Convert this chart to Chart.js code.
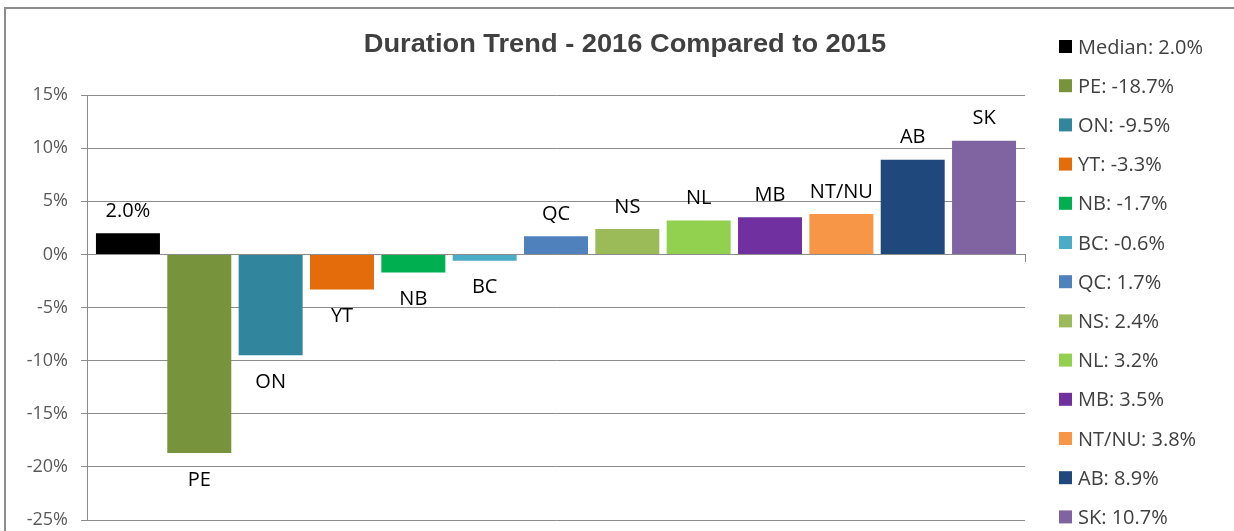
<!DOCTYPE html>
<html><head><meta charset="utf-8">
<script src="https://cdn.jsdelivr.net/npm/chart.js@4.4.1/dist/chart.umd.min.js"></script>
<style>html,body{margin:0;padding:0;background:#fff;} canvas{display:block;}</style>
</head><body>
<canvas id="c" width="1234" height="531"></canvas>
<script>
const categories = ['Median','PE','ON','YT','NB','BC','QC','NS','NL','MB','NT/NU','AB','SK'];
const values = [2.0,-18.7,-9.5,-3.3,-1.7,-0.6,1.7,2.4,3.2,3.5,3.8,8.9,10.7];
const barLabels = ['2.0%','PE','ON','YT','NB','BC','QC','NS','NL','MB','NT/NU','AB','SK'];
const colors = ['#000000','#77933C','#31859C','#E46C0A','#00B050','#4BACC6','#4F81BD','#9BBB59','#92D050','#7030A0','#F79646','#1F497D','#8064A2'];
const yTicks = [-25,-20,-15,-10,-5,0,5,10,15];
const titleText = 'Duration Trend - 2016 Compared to 2015';

const FONT = '"Open Sans", "Noto Sans", sans-serif';
const CAP = 0.714;

const decor = {
  id: 'decor',
  beforeDraw(chart) {
    const ctx = chart.ctx;
    ctx.save();
    ctx.fillStyle = '#fff';
    ctx.fillRect(0, 0, chart.width, chart.height);
    ctx.strokeStyle = '#8c8c8c';
    ctx.lineWidth = 2;
    ctx.strokeRect(5, 8, chart.width + 20, chart.height + 20);
    ctx.restore();
  },
  afterDatasetsDraw(chart) {
    const ctx = chart.ctx;
    const meta = chart.getDatasetMeta(0);
    ctx.save();
    const fs = 20;
    ctx.font = fs + 'px ' + FONT;
    ctx.fillStyle = '#000';
    ctx.textAlign = 'center';
    ctx.textBaseline = 'alphabetic';
    meta.data.forEach((el, i) => {
      const v = values[i];
      let cy = v >= 0 ? el.y - 23.5 : el.y + 25.5;
      ctx.fillText(barLabels[i], el.x, cy + fs * CAP / 2);
    });
    ctx.restore();
  },
  afterDraw(chart) {
    const ctx = chart.ctx;
    ctx.save();
    ctx.translate(625, 52);
    ctx.scale(1.09, 1);
    ctx.font = 'bold 25px "Liberation Sans", Arial, sans-serif';
    ctx.fillStyle = '#404040';
    ctx.textAlign = 'center';
    ctx.textBaseline = 'alphabetic';
    ctx.fillText(titleText, 0, 0);
    ctx.restore();
    ctx.save();
    const fs = 20;
    ctx.font = fs + 'px ' + FONT;
    ctx.textAlign = 'left';
    ctx.textBaseline = 'alphabetic';
    categories.forEach((c, i) => {
      const cy = 46.5 + i * 39.2;
      ctx.fillStyle = colors[i];
      ctx.fillRect(1059, cy - 6.5, 13, 13);
      ctx.fillStyle = '#404040';
      ctx.fillText(c + ': ' + values[i].toFixed(1) + '%', 1078, cy + fs * CAP / 2);
    });
    ctx.restore();
  }
};

new Chart(document.getElementById('c'), {
  type: 'bar',
  data: {
    datasets: [{
      data: values.map((v, i) => ({x: i, y: v})),
      backgroundColor: colors,
      borderWidth: 0,
      barPercentage: 0.897,
      categoryPercentage: 1
    }]
  },
  options: {
    responsive: false,
    animation: false,
    devicePixelRatio: 1,
    layout: {padding: {left: 0, top: 95, right: 209, bottom: 11}},
    plugins: {legend: {display: false}, tooltip: {enabled: false}, title: {display: false}},
    scales: {
      y: {
        type: 'linear',
        min: -25, max: 15,
        afterFit(s) { s.width = 87; s.paddingTop = 0; s.paddingBottom = 0; },
        afterBuildTicks(s) { s.ticks = yTicks.map(v => ({value: v})); },
        ticks: {
          callback: v => v + '%',
          font: {family: FONT, size: 18},
          color: '#595959',
          padding: 13
        },
        grid: {color: '#8c8c8c', lineWidth: 1, tickLength: 6, drawTicks: true},
        border: {display: true, color: '#8c8c8c', width: 1}
      },
      x: {
        type: 'linear',
        position: {y: 0},
        offset: false,
        min: -0.574, max: 12.574,
        afterFit(s) { s.height = 0; s.paddingLeft = 0; s.paddingRight = 0; },
        afterBuildTicks(s) { s.ticks = [{value: s.max}]; },
        ticks: {display: false},
        grid: {offset: false, drawOnChartArea: false, drawTicks: true, tickLength: 7, color: '#8c8c8c'},
        border: {display: true, color: '#8c8c8c', width: 1}
      }
    }
  },
  plugins: [decor]
});
</script>
</body></html>
